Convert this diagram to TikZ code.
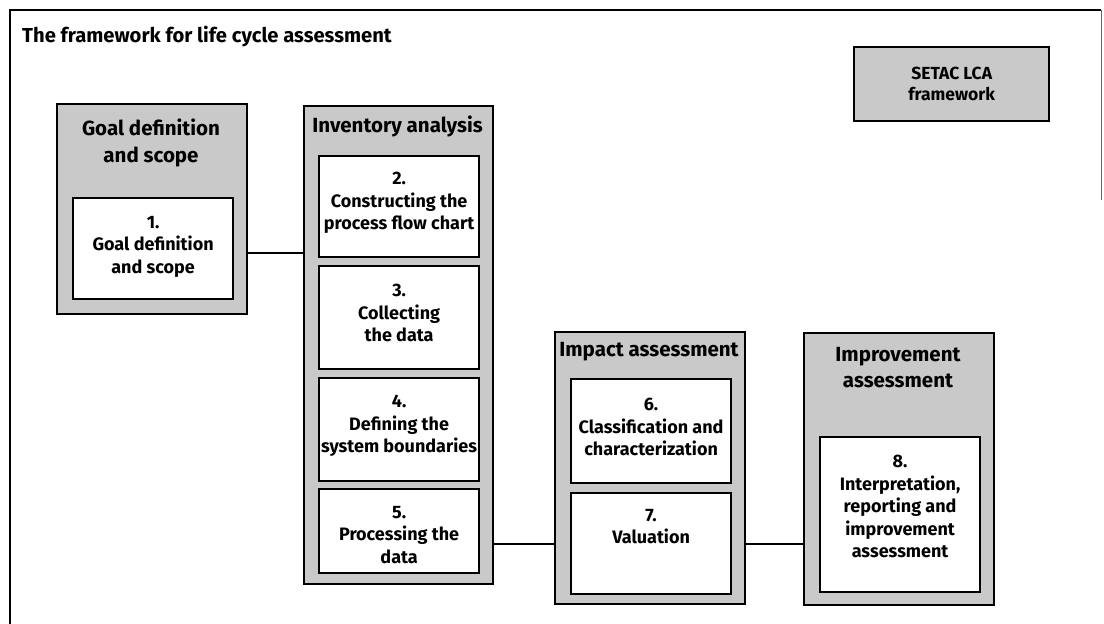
\documentclass[tikz,border=0pt]{standalone}
\usepackage{fontspec}
\setmainfont{Fira Sans}
\definecolor{boxgray}{HTML}{C9C9C9}
\begin{document}
\begin{tikzpicture}[x=1pt,y=-1pt,
  outerbox/.style={draw=black, line width=2.4pt, fill=boxgray, anchor=north west, inner sep=0pt},
  innerbox/.style={draw=black, line width=2.2pt, fill=white, anchor=north west, inner sep=0pt},
  head/.style={font=\fontsize{20.5}{26.5}\selectfont\bfseries, align=center, anchor=north, inner sep=0pt},
  body/.style={font=\fontsize{18}{22.5}\selectfont\bfseries, align=center, anchor=north, inner sep=0pt},
  link/.style={line width=1.8pt},
  frameline/.style={line width=2pt}]
\useasboundingbox (0,0) rectangle (1104,624);
% frame
\coordinate (fbl) at (10,624);
\coordinate (ftl) at (10,10);
\coordinate (ftr) at (1101,10);
\coordinate (frb) at (1101,200);
\draw[frameline] (fbl) -- (ftl) -- (ftr);
\draw[line width=0.8pt, black!60] (ftr) -- (frb);
\node[anchor=west, inner sep=0pt, font=\fontsize{20.2}{24}\selectfont\bfseries] (title) at (22,37) {The framework for life cycle assessment};
% SETAC box
\node[outerbox, minimum width=195pt, minimum height=74pt] (setac) at (853,46) {};
\node[font=\fontsize{17.5}{21}\selectfont\bfseries, align=center, inner sep=0pt] (setact) at (setac.center) {SETAC LCA\\framework};
% goal
\node[outerbox, minimum width=190pt, minimum height=210pt] (goal) at (56,103) {};
\node[head] (goalh) at (151,119) {Goal definition\\and scope};
\node[innerbox, minimum width=160pt, minimum height=101pt] (b1) at (72,197) {};
\node[body] (t1) at (b1.north |- 0,216) {1.\\Goal definition\\and scope};
% inventory
\node[outerbox, minimum width=189pt, minimum height=478pt] (inv) at (303,105) {};
\node[head] (invh) at (397.5,116) {Inventory analysis};
\node[innerbox, minimum width=160pt, minimum height=101pt] (b2) at (318,155) {};
\node[body] (t2) at (b2.north |- 0,172) {2.\\Constructing the\\process flow chart};
\node[innerbox, minimum width=160pt, minimum height=103pt] (b3) at (318,265) {};
\node[body] (t3) at (b3.north |- 0,284) {3.\\Collecting\\the data};
\node[innerbox, minimum width=160pt, minimum height=103pt] (b4) at (318,377) {};
\node[body] (t4) at (b4.north |- 0,395) {4.\\Defining the\\system boundaries};
\node[innerbox, minimum width=160pt, minimum height=84pt] (b5) at (318,488) {};
\node[body] (t5) at (b5.north |- 0,506) {5.\\Processing the\\data};
% impact
\node[outerbox, minimum width=190pt, minimum height=272pt] (imp) at (554,331) {};
\node[head] (imph) at (649,342) {Impact assessment};
\node[innerbox, minimum width=160pt, minimum height=104pt] (b6) at (570,378) {};
\node[body] (t6) at (b6.north |- 0,398) {6.\\Classification and\\characterization};
\node[innerbox, minimum width=160pt, minimum height=101pt] (b7) at (570,492) {};
\node[body] (t7) at (b7.north |- 0,509) {7.\\Valuation};
% improvement
\node[outerbox, minimum width=190pt, minimum height=272pt] (impr) at (803,332) {};
\node[head] (imprh) at (898,347) {Improvement\\assessment};
\node[innerbox, minimum width=160pt, minimum height=155pt] (b8) at (819,436) {};
\node[body] (t8) at (b8.north |- 0,455) {8.\\Interpretation,\\reporting and\\improvement\\assessment};
% connectors
\coordinate (c1) at (0,253);
\draw[link] (goal.east |- c1) -- (inv.west |- c1);
\draw[link] (inv.east |- b7) -- (imp.west |- b7);
\draw[link] (imp.east |- b7) -- (impr.west |- b7);
\end{tikzpicture}
\end{document}
